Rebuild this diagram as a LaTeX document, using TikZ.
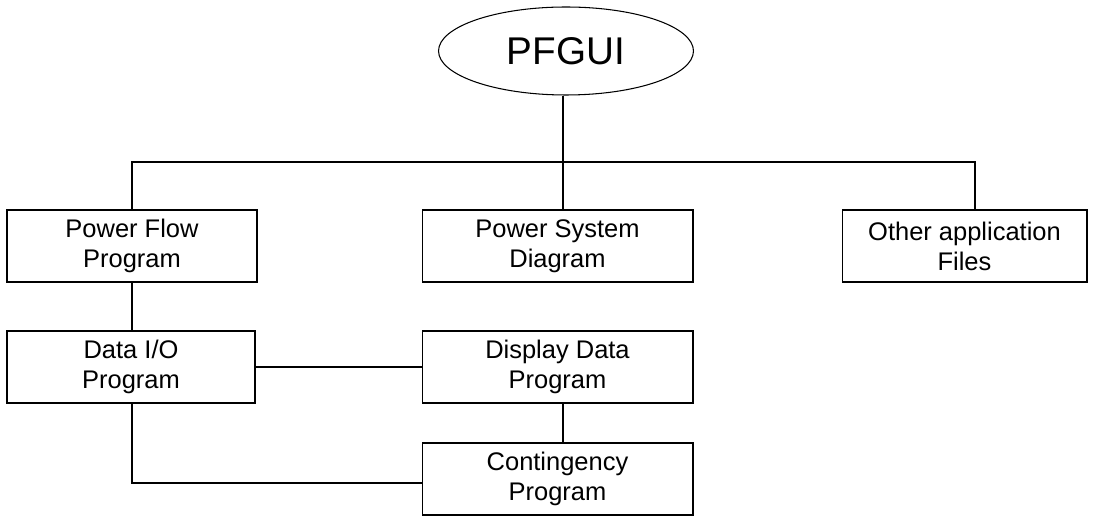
\documentclass[tikz,border=0pt]{standalone}
\usepackage{fontspec}
\setmainfont{Liberation Sans}
\usetikzlibrary{shapes.geometric}
\begin{document}
\begin{tikzpicture}[x=0.02cm, y=-0.02cm, line width=0.6pt,
    blk/.style={draw, rectangle, align=center, minimum height=1.44cm, inner sep=0pt, font=\fontsize{14.5}{17}\selectfont},
    topnode/.style={draw, ellipse, minimum width=5.1cm, minimum height=1.76cm, inner sep=0pt, font=\fontsize{22}{26}\selectfont}]

\useasboundingbox (0,0) rectangle (1093,516);

\node[topnode] (pfgui) at (566,51) {PFGUI};

\node[blk, minimum width=5cm] (pfp) at (132,246) {Power Flow\\Program};
\node[blk, minimum width=5.42cm] (psd) at (557.5,246) {Power System\\Diagram};
\node[blk, minimum width=4.9cm] (oaf) at (964.5,246) {Other application\\Files};

\node[blk, minimum width=4.96cm] (dio) at (131,367) {Data I/O\\Program};
\node[blk, minimum width=5.42cm] (ddp) at (557.5,367) {Display Data\\Program};
\node[blk, minimum width=5.42cm] (cp) at (557.5,479) {Contingency\\Program};

\coordinate (busL) at (132,162);
\coordinate (busR) at (975,162);
\coordinate (midx) at (563,0);

\draw (pfgui.south -| midx) -- (midx |- psd.north);
\draw (pfp.north) -- (busL) -- (busR) -- (busR |- oaf.north);
\draw (pfp.south) -- (pfp.south |- dio.north);
\draw (dio.east) -- (ddp.west);
\draw (midx |- ddp.south) -- (midx |- cp.north);
\draw (pfp.south |- dio.south) |- ([yshift=-0.08cm]cp.west);

\end{tikzpicture}
\end{document}
